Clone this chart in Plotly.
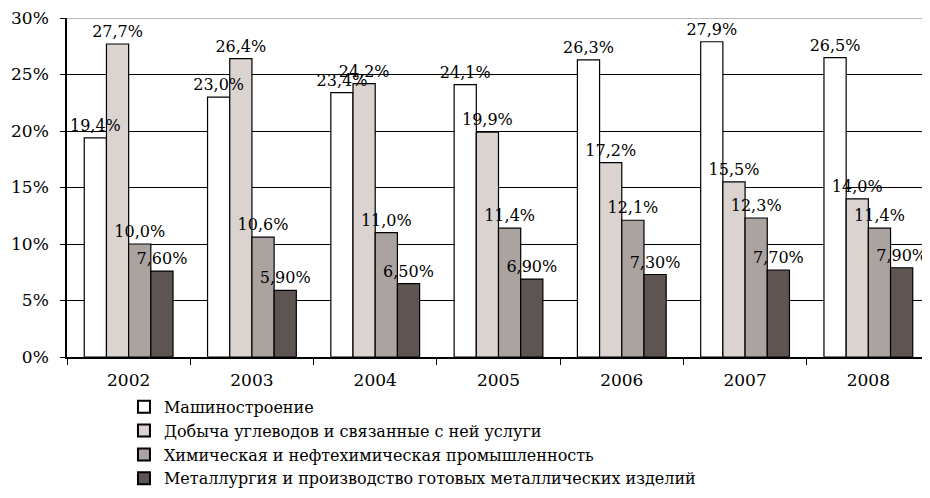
import plotly.graph_objects as go

years = ["2002", "2003", "2004", "2005", "2006", "2007", "2008"]
series_names = [
    "Машиностроение",
    "Добыча углеводов и связанные с ней услуги",
    "Химическая и нефтехимическая промышленность",
    "Металлургия и производство готовых металлических изделий",
]
mach = [19.4, 23.0, 23.4, 24.1, 26.3, 27.9, 26.5]
oil = [27.7, 26.4, 24.2, 19.9, 17.2, 15.5, 14.0]
chem = [10.0, 10.6, 11.0, 11.4, 12.1, 12.3, 11.4]
metal = [7.6, 5.9, 6.5, 6.9, 7.3, 7.7, 7.9]
decimals = [1, 1, 1, 2]
colors = ["#FFFFFF", "#DAD3D0", "#ABA3A0", "#5E5553"]

font_family = "DejaVu Serif"
all_series = [mach, oil, chem, metal]

fig = go.Figure()
# visible bars
for i, (name, vals, col) in enumerate(zip(series_names, all_series, colors)):
    fig.add_trace(go.Bar(
        x=years, y=vals, name=name, offsetgroup=str(i),
        marker=dict(color=col, line=dict(color="#000000", width=1.2)),
    ))
# transparent overlay bars carrying the value labels, drawn on top of all bars
for i, (vals, dec) in enumerate(zip(all_series, decimals)):
    texts = [(f"{v:.{dec}f}%").replace(".", ",") for v in vals]
    fig.add_trace(go.Bar(
        x=years, y=vals, offsetgroup=str(i), showlegend=False, hoverinfo="skip",
        marker=dict(color="rgba(0,0,0,0)", line=dict(width=0)),
        text=texts, textposition="outside", constraintext="none",
        textfont=dict(family=font_family, size=16, color="#000000"),
        outsidetextfont=dict(family=font_family, size=16, color="#000000"),
        cliponaxis=False,
    ))

fig.update_layout(
    width=922, height=490,
    margin=dict(l=59, r=0, t=10, b=141, autoexpand=False),
    paper_bgcolor="white", plot_bgcolor="white",
    barmode="group", bargap=0.28, bargroupgap=0,
    font=dict(family=font_family, size=16, color="#000000"),
    showlegend=True,
    legend=dict(
        orientation="v", x=0.066, xanchor="left", y=-0.097, yanchor="top",
        font=dict(family=font_family, size=16, color="#000000"),
        tracegroupgap=0, itemsizing="constant",
        bgcolor="rgba(0,0,0,0)",
    ),
)
fig.update_xaxes(
    type="category", showline=True, linecolor="#000000", linewidth=1.5,
    ticks="outside", tickson="boundaries", ticklen=6, tickcolor="#000000",
    tickfont=dict(family=font_family, size=17), showgrid=False,
    automargin=False, ticklabelstandoff=7,
)
fig.update_yaxes(
    range=[0, 30], dtick=5, ticksuffix="%",
    showline=True, linecolor="#000000", linewidth=1.5,
    ticks="outside", ticklen=5, tickcolor="#000000",
    showgrid=True, gridcolor="#000000", gridwidth=1,
    zeroline=False, automargin=False, ticklabelstandoff=8,
    ticklabeloverflow="allow",
    tickfont=dict(family=font_family, size=17),
)
fig.add_shape(type="line", xref="paper", yref="y", x0=0, x1=1, y0=30, y1=30,
              line=dict(color="#A0A0A0", width=1.5))

fig.write_html("out.html")
